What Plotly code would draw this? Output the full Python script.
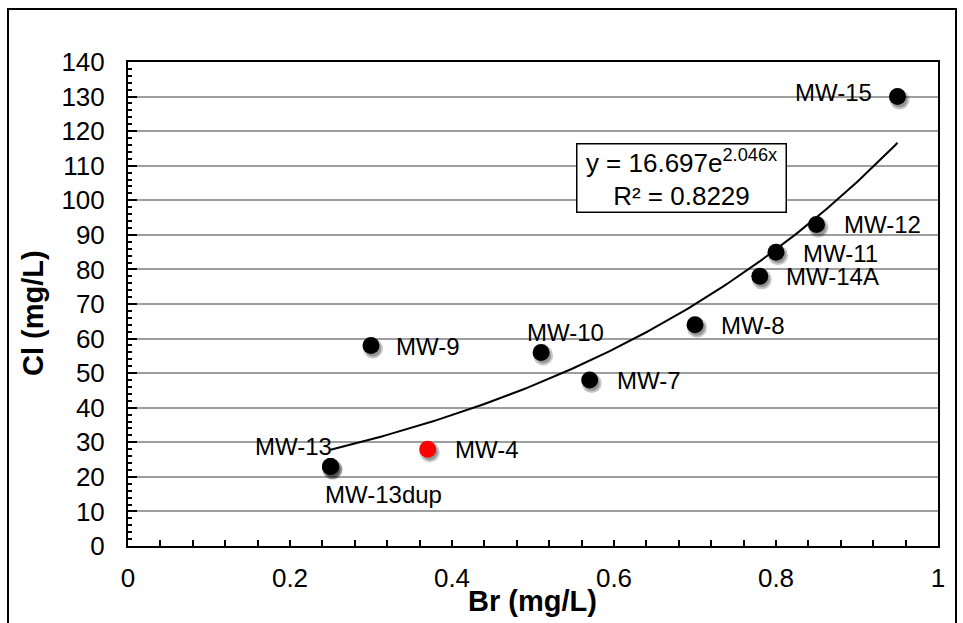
import numpy as np
import plotly.graph_objects as go

# Br vs Cl concentrations per monitoring well
wells = ["MW-15", "MW-12", "MW-11", "MW-14A", "MW-8", "MW-9",
         "MW-10", "MW-7", "MW-4", "MW-13", "MW-13dup"]
br = [0.95, 0.85, 0.80, 0.78, 0.70, 0.30, 0.51, 0.57, 0.37, 0.25, 0.25]
cl = [130, 93, 85, 78, 64, 58, 56, 48, 28, 23, 23]
colors = ["black"] * 8 + ["#FF0000", "black", "black"]

# exponential trendline  y = a * e^(b x)
fit_a = 16.697
fit_b = 2.046
fit_r2 = 0.8229

x_ticks = [0, 0.2, 0.4, 0.6, 0.8, 1]
x_tick_text = ["0", "0.2", "0.4", "0.6", "0.8", "1"]
y_ticks = list(range(0, 150, 10))

x_title = "Br (mg/L)"
y_title = "Cl (mg/L)"

# label placement (pixel offsets from the marker)
label_style = {
    "MW-15":    dict(xanchor="right", xshift=-24, yshift=4),
    "MW-12":    dict(xanchor="left", xshift=25, yshift=0),
    "MW-11":    dict(xanchor="left", xshift=25, yshift=-1),
    "MW-14A":   dict(xanchor="left", xshift=24, yshift=0),
    "MW-8":     dict(xanchor="left", xshift=24, yshift=-1),
    "MW-9":     dict(xanchor="left", xshift=23, yshift=-1),
    "MW-10":    dict(xanchor="center", xshift=24, yshift=20),
    "MW-7":     dict(xanchor="left", xshift=25, yshift=0),
    "MW-4":     dict(xanchor="left", xshift=25, yshift=0),
    "MW-13":    dict(xanchor="right", xshift=3, yshift=20),
    "MW-13dup": dict(xanchor="left", xshift=-8, yshift=-28),
}

W, H = 963, 623
ML, MR, MT, MB = 128, 25, 62, 77
PW, PH = W - ML - MR, H - MT - MB

FONT = "Liberation Sans, Arial, sans-serif"


def px_x(p):
    return (p - ML) / PW


def px_y(p):
    return (MT + PH - p) / PH


fig = go.Figure()

# trendline
tx = np.linspace(min(br), max(br), 200)
ty = fit_a * np.exp(fit_b * tx)
fig.add_trace(go.Scatter(x=tx, y=ty, mode="lines",
                         line=dict(color="black", width=2),
                         hoverinfo="skip", showlegend=False))

# soft drop shadow under the markers (same data, slightly shifted axes)
fig.add_trace(go.Scatter(x=br, y=cl, mode="markers", xaxis="x2", yaxis="y2",
                         marker=dict(size=20, color="rgba(0,0,0,0.22)"),
                         hoverinfo="skip", showlegend=False))
fig.add_trace(go.Scatter(x=br, y=cl, mode="markers", xaxis="x2", yaxis="y2",
                         marker=dict(size=16, color="rgba(0,0,0,0.25)"),
                         hoverinfo="skip", showlegend=False))

# markers
fig.add_trace(go.Scatter(x=br, y=cl, mode="markers", xaxis="x3", yaxis="y3",
                         marker=dict(size=17, color=colors),
                         text=wells, showlegend=False))

for name, xv, yv in zip(wells, br, cl):
    st = label_style[name]
    fig.add_annotation(x=xv, y=yv, xref="x", yref="y", text=name,
                       showarrow=False, yanchor="middle",
                       font=dict(family=FONT, size=24, color="black"), **st)

# equation box
fig.add_annotation(x=px_x(681), y=px_y(178),
                   xref="paper", yref="paper", xanchor="center", yanchor="middle",
                   text=f"y = {fit_a}e<sup>{fit_b}x</sup><br>R² = {fit_r2}",
                   showarrow=False, align="center",
                   font=dict(family=FONT, size=26, color="black"),
                   bgcolor="white", bordercolor="black", borderwidth=1.5,
                   borderpad=2, width=204, height=63)

# axis titles
fig.add_annotation(x=px_x(532), y=px_y(601), xref="paper", yref="paper",
                   xanchor="center", yanchor="middle", showarrow=False,
                   text=f"<b>{x_title}</b>",
                   font=dict(family=FONT, size=29, color="black"))
fig.add_annotation(x=px_x(33), y=px_y(313), xref="paper", yref="paper",
                   xanchor="center", yanchor="middle", showarrow=False,
                   text=f"<b>{y_title}</b>", textangle=-90,
                   font=dict(family=FONT, size=29, color="black"))

# outer chart border
fig.add_shape(type="rect", xref="paper", yref="paper",
              x0=px_x(8), x1=px_x(956), y0=px_y(640), y1=px_y(9),
              line=dict(color="black", width=2), layer="below")

dx = 2 / PW
dy = 3 * 140 / PH

fig.update_layout(
    width=W, height=H,
    margin=dict(l=ML, r=MR, t=MT, b=MB, autoexpand=False),
    paper_bgcolor="white", plot_bgcolor="white",
    font=dict(family=FONT, color="black"),
    xaxis=dict(range=[0, 1], tickvals=x_ticks, ticktext=x_tick_text,
               ticks="inside", ticklen=6, tickwidth=1.5, tickcolor="black",
               minor=dict(dtick=0.04, ticks="inside", ticklen=6, tickwidth=1.5,
                          tickcolor="black", showgrid=False),
               showgrid=False, zeroline=False, automargin=False,
               showline=True, linecolor="black", linewidth=2, mirror=True,
               tickfont=dict(size=26), ticklabelstandoff=8),
    yaxis=dict(range=[0, 140], tickvals=y_ticks,
               ticks="inside", ticklen=9, tickwidth=1.5, tickcolor="black",
               minor=dict(dtick=2, ticks="inside", ticklen=4, tickwidth=1.5,
                          tickcolor="black", showgrid=False),
               showgrid=True, gridcolor="#9E9E9E", gridwidth=2, zeroline=False,
               automargin=False,
               showline=True, linecolor="black", linewidth=2, mirror=True,
               tickfont=dict(size=26), ticklabelstandoff=16),
    xaxis2=dict(overlaying="x", range=[-dx, 1 - dx], visible=False),
    yaxis2=dict(overlaying="y", range=[dy, 140 + dy], visible=False),
    xaxis3=dict(overlaying="x", range=[0, 1], visible=False),
    yaxis3=dict(overlaying="y", range=[0, 140], visible=False),
    showlegend=False,
)

fig.write_html("out.html")
